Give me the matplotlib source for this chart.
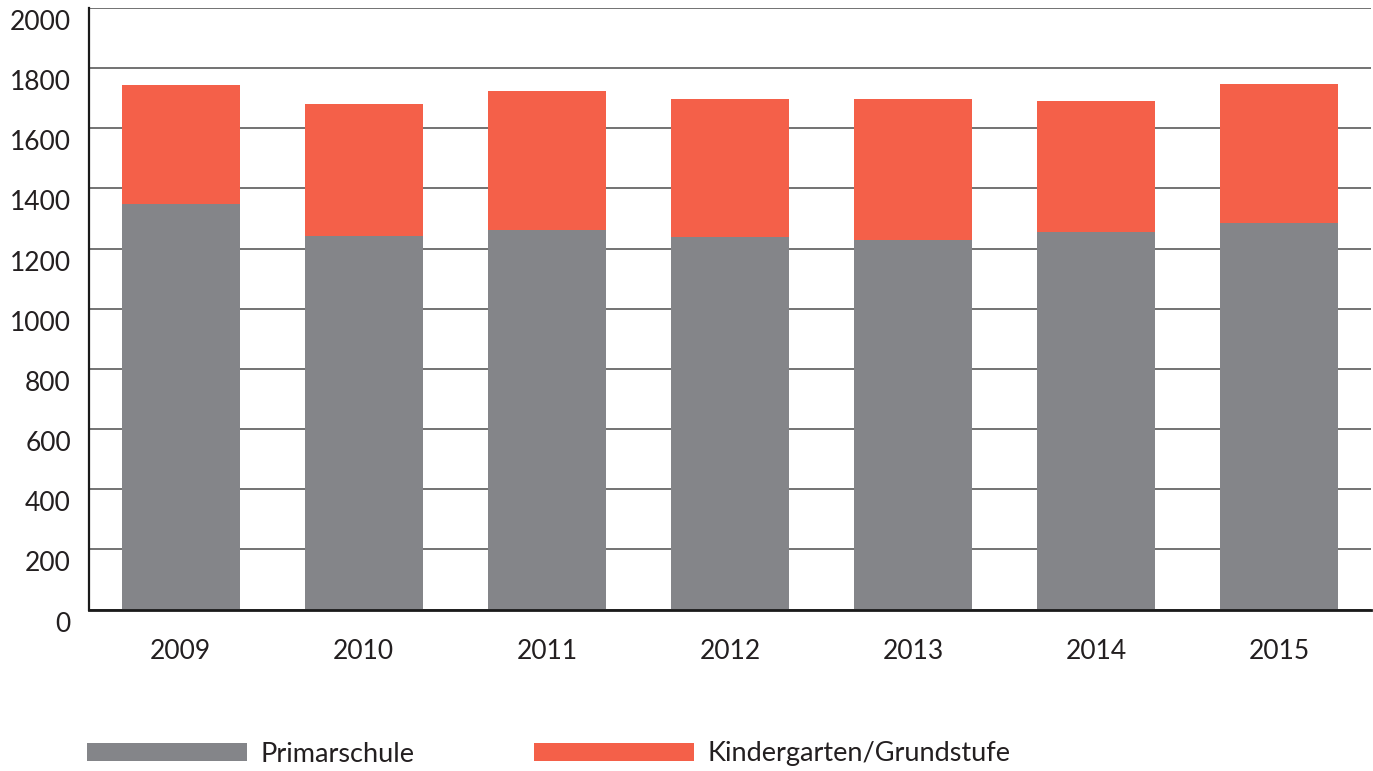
import matplotlib
matplotlib.use("Agg")
import matplotlib.pyplot as plt
import matplotlib.transforms as mtransforms
import numpy as np

years = ["2009", "2010", "2011", "2012", "2013", "2014", "2015"]
primarschule = [1349, 1243, 1263, 1239, 1230, 1256, 1285]
totals = [1744, 1681, 1724, 1698, 1698, 1691, 1748]
kindergarten = [t - p for t, p in zip(totals, primarschule)]
labels = ["Primarschule", "Kindergarten/Grundstufe"]
yticks = [0, 200, 400, 600, 800, 1000, 1200, 1400, 1600, 1800, 2000]

GRAY = "#848589"
ORANGE = "#F46049"

plt.rcParams['font.family'] = ['Lato', 'DejaVu Sans']

fig = plt.figure(figsize=(13.73, 7.71), dpi=100)
ax = fig.add_axes([89/1373, 1 - 609.5/771, (1371-89)/1373, (609.5-8)/771])

x = np.arange(len(years))
w = 0.645
ax.bar(x, primarschule, width=w, color=GRAY, label=labels[0], zorder=3)
ax.bar(x, kindergarten, width=w, bottom=primarschule, color=ORANGE, label=labels[1], zorder=3)

ax.set_xlim(-0.5, len(years) - 0.5)
ax.set_ylim(0, 2000)
ax.set_yticks(yticks)
ax.set_yticklabels([str(v) for v in yticks])
ax.set_xticks(x)
ax.set_xticklabels(years)

ax.yaxis.grid(True, color="#5a5a5a", linewidth=1.2, zorder=0)
ax.set_axisbelow(True)
for s in ["top", "right"]:
    ax.spines[s].set_visible(False)
ax.spines["left"].set_linewidth(1.6)
ax.spines["left"].set_color("#1a1a1a")
ax.spines["bottom"].set_linewidth(2.0)
ax.spines["bottom"].set_color("#1a1a1a")
ax.spines["bottom"].set_zorder(4)

ax.tick_params(axis="y", length=0, pad=13, labelsize=19, labelcolor="#231f20")
ax.tick_params(axis="x", length=0, pad=21, labelsize=19, labelcolor="#231f20")

off = mtransforms.ScaledTranslation(0, -12/100, fig.dpi_scale_trans)
for lab in ax.get_yticklabels():
    lab.set_transform(lab.get_transform() + off)

leg = fig.legend(loc="center left", bbox_to_anchor=(87/1373, 1 - 754/771), ncol=2,
                 frameon=False, fontsize=19.5, handlelength=5.9, handleheight=0.65,
                 handletextpad=0.52, columnspacing=4.4, borderpad=0, borderaxespad=0)
for t in leg.get_texts():
    t.set_color("#231f20")

fig.savefig("out.png", dpi=100)
